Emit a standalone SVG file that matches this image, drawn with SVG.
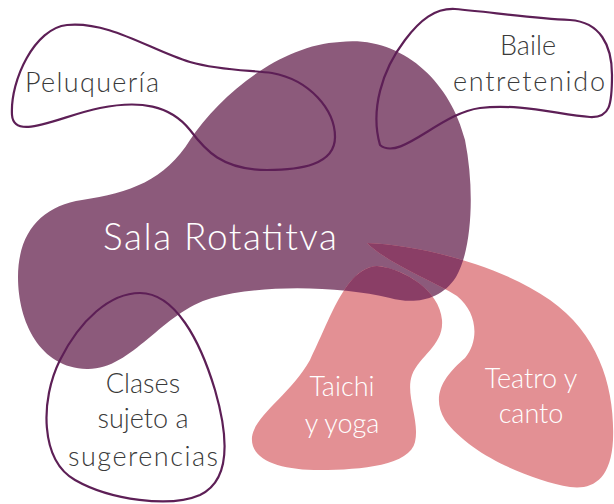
<svg xmlns="http://www.w3.org/2000/svg" width="614" height="504" viewBox="0 0 614 504">
<style>
.outline{fill:none;stroke:#5d1f56;stroke-width:2.2}
.dark{font-family:Lato,"Open Sans",sans-serif;font-weight:300;fill:#3a3a3a;text-anchor:middle}
.light{font-family:Lato,"Open Sans",sans-serif;font-weight:300;fill:#ffffff;text-anchor:middle}
</style>
<defs>
<path id="mainShape" d="M 340,42 C 400,35 450,80 465,140 C 475,190 472,250 456,277 C 440,302 412,304 390,298 C 340,286 262,284 212,298 C 162,312 132,370 87,369 C 40,368 18,322 18,277 C 18,232 42,206 82,200 C 130,193 165,180 190,140 C 220,95 280,45 340,42 Z"/>
<path id="taichiShape" d="M 377,266 C 402,268 440,290 442,320 C 444,345 420,355 412,375 C 405,395 420,420 415,442 C 410,465 362,470 320,470 C 280,470 250,460 252,437 C 255,415 290,395 310,360 C 330,320 345,268 377,266 Z"/>
<path id="teatroShape" d="M 367,243 C 420,245 500,265 550,300 C 600,335 615,390 613,440 C 611,480 592,490 570,487 C 530,480 470,455 445,420 C 430,395 445,375 465,358 C 480,340 477,312 457,296 C 432,280 390,265 367,243 Z"/>
<clipPath id="mainClip"><use href="#mainShape"/></clipPath>
</defs>
<g id="sala">
<use href="#mainShape" fill="#8c5a7b"/>
</g>
<g id="taichi">
<use href="#taichiShape" fill="#e39094"/>
</g>
<g id="teatro">
<use href="#teatroShape" fill="#e39094"/>
</g>
<g id="overlap" clip-path="url(#mainClip)">
<use href="#taichiShape" fill="#8a3e66"/>
<use href="#teatroShape" fill="#8a3e66"/>
</g>
<g id="connectors"></g>
<g id="peluqueria">
<path class="outline" d="M 12,115 C 10,80 35,28 67,25 C 110,21 150,50 190,62 C 222,71 250,70 272,73 C 310,80 335,110 335,137 C 335,165 300,170 267,170 C 222,170 205,150 190,130 C 170,105 140,100 100,108 C 60,116 14,142 12,115 Z"/>
<text class="dark" x="92" y="92" font-size="27" textLength="134" lengthAdjust="spacing">Peluquería</text>
</g>
<g id="baile">
<path class="outline" d="M 380,145 C 370,110 382,70 405,40 C 420,20 435,8 455,9 C 490,12 530,18 570,20 C 600,22 612,45 612,75 C 612,105 610,118 590,117 C 560,115 520,103 480,108 C 440,113 400,162 380,145 Z"/>
<text class="dark" x="528" y="55" font-size="27">Baile</text>
<text class="dark" x="529" y="91" font-size="27" textLength="152" lengthAdjust="spacing">entretenido</text>
</g>
<g id="sala-text">
<text class="light" x="220" y="250" font-size="37" textLength="234" lengthAdjust="spacing">Sala Rotatitva</text>
</g>
<g id="clases">
<path class="outline" d="M 140,293 C 175,293 200,340 215,390 C 228,435 232,480 200,495 C 170,508 110,500 75,480 C 40,460 40,400 60,360 C 80,320 110,293 140,293 Z"/>
<text class="dark" x="143" y="393" font-size="27">Clases</text>
<text class="dark" x="143" y="428" font-size="27">sujeto a</text>
<text class="dark" x="143" y="466" font-size="27" textLength="150" lengthAdjust="spacing">sugerencias</text>
</g>
<g id="taichi-text">
<text class="light" x="342" y="396" font-size="27">Taichi</text>
<text class="light" x="342" y="433" font-size="27">y yoga</text>
</g>
<g id="teatro-text">
<text class="light" x="531" y="388" font-size="27">Teatro y</text>
<text class="light" x="531" y="423" font-size="27">canto</text>
</g>
</svg>
